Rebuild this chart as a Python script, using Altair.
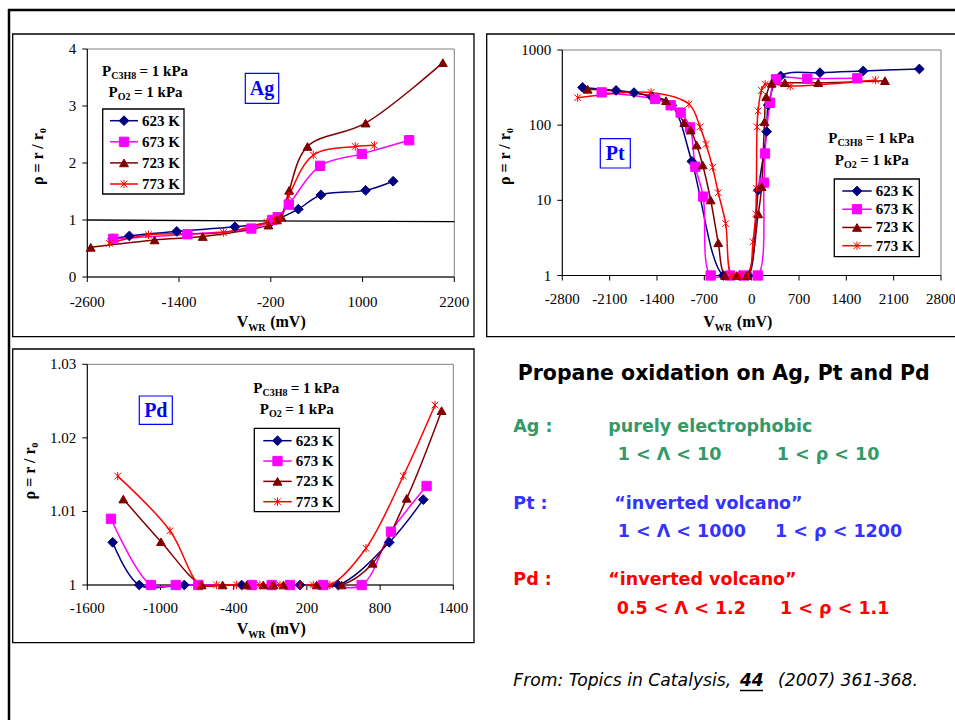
import altair as alt
import pandas as pd

TEMPS = ["623 K", "673 K", "723 K", "773 K"]
COLORS = ["#000080", "#FF00FF", "#800000", "#FF0000"]
STAR = "M0,-1L0,1M-0.8,-0.8L0.8,0.8M-0.8,0.8L0.8,-0.8"
SHAPES = ["diamond", "square", "triangle-up", STAR]
SIZES = [95, 70, 85, 90]

# ---------------- Ag ----------------
AG_X_TICKS = [-2600, -1400, -200, 1000, 2200]
AG_X_LABELS = ["-2600", "-1400", "-200", "1000", "2200"]
AG_Y_TICKS = [0, 1, 2, 3, 4]
AG_Y_LABELS = ["0", "1", "2", "3", "4"]
ag_623_v = [-2270, -2050, -1430, -670, -200, -100, 160, 455, 1040, 1400]
ag_623_r = [0.67, 0.72, 0.80, 0.88, 0.96, 1.02, 1.19, 1.44, 1.52, 1.68]
ag_673_v = [-2260, -1290, -455, -180, -110, 35, 445, 990, 1610]
ag_673_r = [0.67, 0.75, 0.85, 1.00, 1.05, 1.27, 1.95, 2.16, 2.40]
ag_723_v = [-2555, -1720, -1090, -230, -120, -60, 40, 280, 1040, 2050]
ag_723_r = [0.52, 0.65, 0.71, 0.91, 1.00, 1.05, 1.52, 2.29, 2.70, 3.76]
ag_773_v = [-2310, -1800, -820, -250, -150, -80, 35, 355, 905, 1155]
ag_773_r = [0.59, 0.74, 0.78, 0.96, 0.99, 1.03, 1.42, 2.14, 2.29, 2.31]
ag_ref_v = [-2600, 2200]
ag_ref_r = [1.0, 0.97]

# ---------------- Pt ----------------
PT_X_TICKS = [-2800, -2100, -1400, -700, 0, 700, 1400, 2100, 2800]
PT_X_LABELS = ["-2800", "-2100", "-1400", "-700", "0", "700", "1400", "2100", "2800"]
PT_Y_TICKS = [1, 10, 100, 1000]
PT_Y_LABELS = ["1", "10", "100", "1000"]
pt_623_v = [-2500, -2005, -1740, -1480, -1180, -885, -420, -170, -50, 98, 222, 246, 429, 1010, 1650, 2480]
pt_623_r = [318, 290, 271, 240, 183, 33, 1, 1, 1, 13.7, 82, 185, 451, 499, 526, 559]
pt_673_v = [-2218, -1429, -1198, -1050, -912, -833, -716, -606, -320, -123, 90, 182, 197, 271, 359, 822, 1562]
pt_673_r = [273, 223, 184, 147, 93.5, 28, 11.2, 1, 1, 1, 1, 17.2, 42, 199, 407, 415, 420]
pt_723_v = [-2425, -1267, -996, -902, -813, -724, -606, -494, -395, -222, -74, 98, 148, 190, 215, 296, 492, 985, 1971]
pt_723_r = [300, 212, 108, 86, 54.4, 29.5, 10.1, 2.73, 1, 1, 1, 6.6, 15.2, 111, 239, 360, 367, 367, 391]
pt_773_v = [-2573, -1488, -927, -764, -675, -577, -494, -384, -296, -173, -50, 20, 60, 70, 80, 95, 145, 200, 570, 1833]
pt_773_r = [232, 273, 191, 95, 55.6, 27.5, 12.6, 4.9, 1, 1, 1, 2.8, 6.6, 14.5, 95, 155, 290, 350, 331, 399]

# ---------------- Pd ----------------
PD_X_TICKS = [-1600, -1000, -400, 200, 800, 1400]
PD_X_LABELS = ["-1600", "-1000", "-400", "200", "800", "1400"]
PD_Y_TICKS = [1, 1.01, 1.02, 1.03]
PD_Y_LABELS = ["1", "1.01", "1.02", "1.03"]
pd_623_v = [-1392, -1174, -805, -335, 143, 457, 875, 1154]
pd_623_r = [1.0058, 1.0, 1.0, 1.0, 1.0, 1.0, 1.0058, 1.0116]
pd_673_v = [-1406, -1078, -875, -690, -253, -89, 61, 334, 649, 889, 1181]
pd_673_r = [1.0090, 1.0, 1.0, 1.0, 1.0, 1.0, 1.0, 1.0, 1.0, 1.00725, 1.01346]
pd_723_v = [-1305, -996, -662, -491, -294, -157, -75, 7, 280, 485, 739, 1018, 1304]
pd_723_r = [1.01168, 1.00588, 1.0, 1.0, 1.0, 1.0, 1.0, 1.0, 1.0, 1.0, 1.00295, 1.01178, 1.0237]
pd_773_v = [-1351, -922, -676, -540, -376, -185, -89, -21, 143, 252, 389, 684, 990, 1250]
pd_773_r = [1.0148, 1.00738, 1.0, 1.0, 1.0, 1.0, 1.0, 1.0, 1.0, 1.0, 1.0, 1.005, 1.01482, 1.02447]

SERIF = "Liberation Serif, Times New Roman, serif"
COMIC = "Comic Sans MS, DejaVu Sans, sans-serif"
one = pd.DataFrame({"k": [0]})

cscale = alt.Scale(domain=TEMPS, range=COLORS)
sscale = alt.Scale(domain=TEMPS, range=SHAPES)
zscale = alt.Scale(domain=TEMPS, range=SIZES)


def series_df(vs, rs):
    rows = []
    for t, v, r in zip(TEMPS, vs, rs):
        for a, b in zip(v, r):
            rows.append({"T": t, "v": a, "rho": b})
    return pd.DataFrame(rows)


def txt(s, x, y, size, color="black", font=SERIF, weight="bold", align="left",
        baseline="alphabetic", angle=0, style="normal"):
    return alt.Chart(one).mark_text(text=s, align=align, baseline=baseline, font=font,
                                    fontSize=size, fontWeight=weight, color=color,
                                    angle=angle, fontStyle=style).encode(
        x=alt.value(x), y=alt.value(y))


def rect(x1, y1, x2, y2, stroke="black", fill="transparent", sw=1.3):
    return alt.Chart(one).mark_rect(fill=fill, stroke=stroke, strokeWidth=sw).encode(
        x=alt.value(x1), y=alt.value(y1), x2=alt.value(x2), y2=alt.value(y2))


def hrule(x1, x2, y, sw=1, color="black"):
    return alt.Chart(one).mark_rule(strokeWidth=sw, color=color).encode(
        x=alt.value(x1), x2=alt.value(x2), y=alt.value(y))


def vrule(x, y1, y2, sw=1, color="black"):
    return alt.Chart(one).mark_rule(strokeWidth=sw, color=color).encode(
        x=alt.value(x), y=alt.value(y1), y2=alt.value(y2))


def panel(df, xdom, xr, ydom, yr, xticks, xlabels, yticks, ylabels, ylog=False,
          extra=None, xlab_dy=28.5):
    xs = alt.Scale(domain=xdom, range=xr, nice=False, zero=False)
    if ylog:
        ys = alt.Scale(type="log", domain=ydom, range=yr, nice=False)
    else:
        ys = alt.Scale(domain=ydom, range=yr, nice=False, zero=False)
    X = alt.X("v:Q", scale=xs, axis=None)
    Y = alt.Y("rho:Q", scale=ys, axis=None)
    xb, xl = yr[0], xr[0]
    xt = pd.DataFrame({"v": xticks, "lab": xlabels})
    yt = pd.DataFrame({"rho": yticks, "lab": ylabels})
    parts = [
        vrule(xl, yr[1], yr[0]),
        hrule(xr[0], xr[1], yr[0]),
        alt.Chart(xt).mark_rule(color="black", strokeWidth=1).encode(
            x=X, y=alt.value(xb), y2=alt.value(xb + 5)),
        alt.Chart(xt).mark_text(font=SERIF, fontSize=15, align="center", baseline="alphabetic",
                                color="black").encode(x=X, y=alt.value(xb + xlab_dy), text="lab:N"),
        alt.Chart(yt).mark_rule(color="black", strokeWidth=1).encode(
            x=alt.value(xl - 5), x2=alt.value(xl), y=Y),
        alt.Chart(yt).mark_text(font=SERIF, fontSize=15, align="right", baseline="middle",
                                color="black").encode(x=alt.value(xl - 11), y=Y, text="lab:N"),
    ]
    if extra is not None:
        parts.append(alt.Chart(extra).mark_line(color="black", strokeWidth=1.3).encode(x=X, y=Y))
    base = alt.Chart(df)
    parts.append(base.mark_line(interpolate="catmull-rom", strokeWidth=1.5).encode(
        x=X, y=Y, color=alt.Color("T:N", scale=cscale, legend=None)))
    parts.append(base.mark_point(filled=True, opacity=1, strokeWidth=1).encode(
        x=X, y=Y,
        fill=alt.Fill("T:N", scale=cscale, legend=None),
        stroke=alt.Stroke("T:N", scale=cscale, legend=None),
        shape=alt.Shape("T:N", scale=sscale, legend=None),
        size=alt.Size("T:N", scale=zscale, legend=None)))
    return alt.layer(*parts)


def legend(box, x1, x2, xt, y0, y3):
    ys = alt.Y("T:N", scale=alt.Scale(type="point", domain=TEMPS, range=[y0, y3], padding=0), axis=None)
    ld = pd.DataFrame({"T": TEMPS})
    b = rect(box[0], box[1], box[2], box[3], fill="white")
    r = alt.Chart(ld).mark_rule(strokeWidth=1.5).encode(
        x=alt.value(x1), x2=alt.value(x2), y=ys, color=alt.Color("T:N", scale=cscale, legend=None))
    p = alt.Chart(ld).mark_point(filled=True, opacity=1, strokeWidth=1).encode(
        x=alt.value((x1 + x2) / 2), y=ys,
        fill=alt.Fill("T:N", scale=cscale, legend=None),
        stroke=alt.Stroke("T:N", scale=cscale, legend=None),
        shape=alt.Shape("T:N", scale=sscale, legend=None),
        size=alt.Size("T:N", scale=zscale, legend=None))
    t = alt.Chart(ld).mark_text(align="left", baseline="middle", font=SERIF, fontSize=15,
                                fontWeight="bold", color="black").encode(
        x=alt.value(xt), y=ys, text="T:N")
    return alt.layer(b, r, p, t)


def pressures(x, y):
    return [
        txt("P", x, y, 15), txt("C3H8", x + 9.2, y + 3, 10), txt("= 1 kPa", x + 37.5, y, 15),
        txt("P", x + 6.5, y + 21.5, 15), txt("O2", x + 15.7, y + 24.5, 10),
        txt("= 1 kPa", x + 32, y + 21.5, 15),
    ]


def xtitle(x, y):
    return [txt("V", x, y, 16), txt("WR", x + 11.5, y + 4, 10), txt("(mV)", x + 33.5, y, 16)]


def ytitle(x, y):
    return txt("ρ = r / r₀", x, y, 16, align="center", baseline="middle", angle=270)


def tag(s, x1, y1, x2, y2):
    return [rect(x1, y1, x2, y2, stroke="#0000FF", fill="white", sw=1.2),
            txt(s, (x1 + x2) / 2, (y1 + y2) / 2 + 1, 20, color="#0000FF", align="center",
                baseline="middle")]


layers = []
# slide frame
layers += [hrule(8, 956, 10, sw=2.5), vrule(9, 9, 721, sw=2.5)]
# panel boxes
layers += [rect(12.7, 34, 474, 336.7), rect(486.7, 34, 958, 336.7), rect(12.7, 349, 474, 642.7)]
# plot area borders (grey)
layers += [rect(87.3, 49, 454.3, 277, stroke="#808080", sw=1),
           rect(562.3, 50, 941, 275.5, stroke="#808080", sw=1),
           rect(87.3, 364.3, 453.3, 585, stroke="#808080", sw=1)]

# panels
ag = panel(series_df([ag_623_v, ag_673_v, ag_723_v, ag_773_v], [ag_623_r, ag_673_r, ag_723_r, ag_773_r]),
           [-2600, 2200], [87.3, 454.3], [0, 4], [277, 49], AG_X_TICKS, AG_X_LABELS,
           AG_Y_TICKS, AG_Y_LABELS, extra=pd.DataFrame({"v": ag_ref_v, "rho": ag_ref_r}), xlab_dy=29.5)
pt = panel(series_df([pt_623_v, pt_673_v, pt_723_v, pt_773_v], [pt_623_r, pt_673_r, pt_723_r, pt_773_r]),
           [-2800, 2800], [562.3, 941], [1, 1000], [275.5, 50], PT_X_TICKS, PT_X_LABELS,
           PT_Y_TICKS, PT_Y_LABELS, ylog=True, xlab_dy=28)
pdp = panel(series_df([pd_623_v, pd_673_v, pd_723_v, pd_773_v], [pd_623_r, pd_673_r, pd_723_r, pd_773_r]),
            [-1600, 1400], [87.3, 453.3], [1, 1.03], [585, 364.3], PD_X_TICKS, PD_X_LABELS,
            PD_Y_TICKS, PD_Y_LABELS, xlab_dy=28)
layers += [ag, pt, pdp]

# legends
layers.append(legend((102.7, 109, 184, 194), 110, 138, 142, 120.7, 184))
layers.append(legend((834.3, 179, 919.3, 256.7), 842.3, 871.7, 875.7, 191, 245.7))
layers.append(legend((254.3, 428.3, 339.3, 511.7), 263.3, 291.7, 295.7, 440.7, 501.7))

# annotations in panels
layers += pressures(102, 75.7) + pressures(828.3, 143.3) + pressures(253.3, 392.7)
layers += tag("Ag", 245.3, 73.3, 278.7, 103.3) + tag("Pt", 600.3, 138.7, 630.3, 168) + tag("Pd", 139.3, 396, 172.3, 424.3)
layers += xtitle(236.7, 327) + xtitle(703.3, 327.3) + xtitle(236.7, 633.5)
layers += [ytitle(38.3, 156.7), ytitle(505, 156.7), ytitle(30, 471)]

# right-hand text block
GREEN, BLUE, RED = "#339966", "#3333FF", "#FF0000"
layers += [
    txt("Propane oxidation on Ag, Pt and Pd", 517.7, 374, 20.5, font=COMIC, baseline="middle"),
    txt("Ag :", 513.3, 427.3, 17.5, color=GREEN, font=COMIC, baseline="middle"),
    txt("purely electrophobic", 608.3, 427.3, 17.5, color=GREEN, font=COMIC, baseline="middle"),
    txt("1 < Λ < 10", 617.7, 455.3, 17.5, color=GREEN, font=COMIC, baseline="middle"),
    txt("1 < ρ < 10", 776.7, 455.3, 17.5, color=GREEN, font=COMIC, baseline="middle"),
    txt("Pt :", 513.3, 504, 17.5, color=BLUE, font=COMIC, baseline="middle"),
    txt("“inverted volcano”", 614.3, 504, 17.5, color=BLUE, font=COMIC, baseline="middle"),
    txt("1 < Λ < 1000", 617.7, 532, 17.5, color=BLUE, font=COMIC, baseline="middle"),
    txt("1 < ρ < 1200", 775, 532, 17.5, color=BLUE, font=COMIC, baseline="middle"),
    txt("Pd :", 513.3, 580, 17.5, color=RED, font=COMIC, baseline="middle"),
    txt("“inverted volcano”", 608.3, 580, 17.5, color=RED, font=COMIC, baseline="middle"),
    txt("0.5 < Λ < 1.2", 616.7, 609.3, 17.5, color=RED, font=COMIC, baseline="middle"),
    txt("1 < ρ < 1.1", 780, 609.3, 17.5, color=RED, font=COMIC, baseline="middle"),
    txt("From: Topics in Catalysis,", 513.3, 680.7, 17.2, font=COMIC, weight="normal",
        baseline="middle", style="italic"),
    txt("44", 740, 680.7, 17, font=COMIC, baseline="middle", style="italic"),
    hrule(740, 763, 690.5, sw=1.5),
    txt("(2007) 361-368.", 778, 680.7, 17.2, font=COMIC, weight="normal",
        baseline="middle", style="italic"),
]

chart = alt.layer(*layers).resolve_scale(x="independent", y="independent").properties(
    width=955, height=720, autosize=alt.AutoSizeParams(type="none"), padding=0,
    background="white",
).configure_view(strokeWidth=0)

chart.save("out.html", embed_options={"renderer": "svg", "actions": False})
